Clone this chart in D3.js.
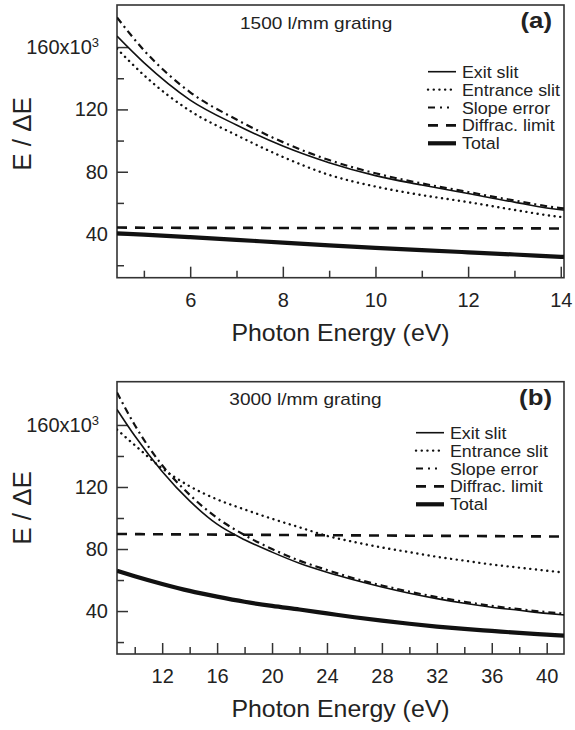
<!DOCTYPE html>
<html>
<head>
<meta charset="utf-8">
<script src="https://cdn.jsdelivr.net/npm/d3@7"></script>
<style>
  body { margin: 0; background: #fff; }
  text { font-family: "Liberation Sans", Arial, sans-serif; fill: #222; }
</style>
</head>
<body>
<div id="chart"></div>
<script>
// Resolving power contributions vs photon energy, two gratings

// panel (a): 1500 l/mm grating
var energyA   = [4.42, 5, 6, 7, 8, 9, 10, 11, 12, 13, 14, 14.07];
var exitA     = [167, 150, 126, 110, 96.5, 85.8, 77.5, 71.5, 66, 60.5, 55.6, 55.4];
var entranceA = [159, 142, 119, 103.5, 89.5, 78, 70.5, 65, 60.5, 55.5, 51, 50.8];
var slopeA    = [179, 158, 131, 113.5, 99, 87.5, 79, 72.5, 67, 61.5, 56.7, 56.5];
var diffracA  = [44.2, 44.1, 44, 44, 43.9, 43.9, 43.8, 43.8, 43.7, 43.7, 43.6, 43.6];
var totalA    = [40.4, 39.6, 38, 36.3, 34.5, 32.8, 31.2, 29.7, 28.3, 26.9, 25.4, 25.3];

// panel (b): 3000 l/mm grating
var energyB   = [8.71, 10, 12, 14, 16, 18, 20, 22, 24, 26, 28, 30, 32, 34, 36, 38, 40, 41.26];
var exitB     = [170, 153, 130, 111, 96, 86, 78, 70.8, 65, 60, 55.5, 51.5, 48, 45, 42.5, 40.5, 38.5, 37.5];
var entranceB = [157, 147, 132, 120.5, 112, 105.5, 99.5, 94, 88.5, 84.5, 81, 78, 75, 72.5, 70, 68, 66, 64.8];
var slopeB    = [181, 160, 134, 115, 100, 89, 80, 72.5, 66.5, 61, 56.5, 52.5, 49, 46, 43.3, 41.2, 39.3, 38.3];
var diffracB  = [89.7, 89.6, 89.5, 89.4, 89.3, 89.2, 89.1, 89, 88.9, 88.8, 88.7, 88.6, 88.5, 88.4, 88.3, 88.2, 88.1, 88];
var totalB    = [66, 62.5, 57.5, 53, 49.3, 46, 43.3, 41, 38.5, 36, 33.8, 31.8, 30, 28.5, 27.2, 25.9, 24.8, 24.1];

var yMajor = [40, 80, 120, 160];
var yMinor = [20, 60, 100, 140];
var xMajorA = [6, 8, 10, 12, 14], xMinorA = [5, 7, 9, 11, 13];
var xMajorB = [12, 16, 20, 24, 28, 32, 36, 40], xMinorB = [10, 14, 18, 22, 26, 30, 34, 38];

var legendNames = ["Exit slit", "Entrance slit", "Slope error", "Diffrac. limit", "Total"];

// line styles, same order as legendNames
var styles = [
    { width: 1.6, dash: null, legendDash: null },
    { width: 2.4, dash: "0.1,5.6", legendDash: "0.1,5.6", cap: "round" },
    { width: 2.2, dash: "7,4,2,4", legendDash: "7,5,2,5,2,20" },
    { width: 2.6, dash: "10,8", legendDash: "10,8" },
    { width: 4.2, dash: null, legendDash: null }
];

var svg = d3.select("#chart")
    .append("svg")
    .attr("width", 575)
    .attr("height", 730);

function addText(g, x, y, str, size, sx, anchor, weight) {
    return g.append("text")
        .attr("transform", "translate(" + x + "," + y + ") scale(" + sx + ",1)")
        .attr("text-anchor", anchor)
        .style("font-size", size + "px")
        .style("font-weight", weight || "normal")
        .text(str);
}

function drawPanel(p) {
    var x = d3.scaleLinear().domain(p.xDomain).range([117, 564]);
    var y = d3.scaleLinear().domain(p.yDomain).range([p.bottom, p.top]);
    var g = svg.append("g");

    // minor ticks
    g.append("g")
        .attr("transform", "translate(0," + p.bottom + ")")
        .call(d3.axisBottom(x).tickValues(p.xMinor).tickSize(-7).tickFormat(""));
    g.append("g")
        .attr("transform", "translate(117,0)")
        .call(d3.axisLeft(y).tickValues(yMinor).tickSize(-7).tickFormat(""));

    // major ticks + labels
    g.append("g")
        .attr("class", "xaxis")
        .attr("transform", "translate(0," + p.bottom + ")")
        .call(d3.axisBottom(x).tickValues(p.xMajor).tickSize(-11).tickPadding(15));
    g.append("g")
        .attr("class", "yaxis")
        .attr("transform", "translate(117,0)")
        .call(d3.axisLeft(y).tickValues(yMajor).tickSize(-11).tickPadding(9));

    g.selectAll(".domain").remove();
    g.selectAll(".tick line").attr("stroke", "#333").attr("stroke-width", 1.5);
    g.selectAll(".tick text").style("font-size", "20px").attr("fill", "#222");

    g.select(".yaxis").selectAll(".tick text").each(function (d) {
        if (d === 160) {
            var t = d3.select(this).text("160x10").attr("dx", "-0.45em");
            t.append("tspan").attr("dy", "-0.55em").style("font-size", "13px").text("3");
        }
    });

    // frame
    g.append("rect")
        .attr("x", 117).attr("y", p.top)
        .attr("width", 564 - 117).attr("height", p.bottom - p.top)
        .attr("fill", "none").attr("stroke", "#333").attr("stroke-width", 1.6);

    var clipId = "clip" + p.tag;
    svg.append("clipPath").attr("id", clipId)
        .append("rect")
        .attr("x", 117).attr("y", p.top)
        .attr("width", 564 - 117).attr("height", p.bottom - p.top);

    var line = d3.line()
        .x(function (d) { return x(d[0]); })
        .y(function (d) { return y(d[1]); })
        .curve(d3.curveMonotoneX);

    p.series.forEach(function (vals, i) {
        var st = styles[i];
        g.append("path")
            .datum(p.energy.map(function (e, j) { return [e, vals[j]]; }))
            .attr("clip-path", "url(#" + clipId + ")")
            .attr("fill", "none")
            .attr("stroke", "#111")
            .attr("stroke-width", st.width)
            .attr("stroke-dasharray", st.dash)
            .attr("stroke-linecap", st.cap || "butt")
            .attr("d", line);
    });

    // legend
    legendNames.forEach(function (name, i) {
        var st = styles[i];
        var ly = p.legendY + i * 17.9;
        g.append("line")
            .attr("x1", p.legendX).attr("x2", p.legendX + 28)
            .attr("y1", ly).attr("y2", ly)
            .attr("stroke", "#111")
            .attr("stroke-width", st.width)
            .attr("stroke-dasharray", st.legendDash)
            .attr("stroke-linecap", st.cap || "butt");
        addText(g, p.legendX + 34, ly + 6, name, 16.5, 1.08, "start");
    });

    // grating label + panel letter
    addText(g, p.titleX, p.top + 23.5, p.title, 17, 1.12, "start");
    addText(g, 552, p.top + 23, p.letter, 23, 1.12, "end", "bold");

    // axis titles
    addText(g, 340.5, p.bottom + 63, "Photon Energy (eV)", 23, 1.08, "middle");
    g.append("text")
        .attr("transform", "translate(31," + p.yTitle + ") rotate(-90)")
        .attr("text-anchor", "middle")
        .style("font-size", "26px")
        .text("E / \u0394E");
}

drawPanel({
    tag: "a", top: 5, bottom: 277.7,
    xDomain: [4.42, 14.07], yDomain: [12, 187],
    xMajor: xMajorA, xMinor: xMinorA,
    energy: energyA,
    series: [exitA, entranceA, slopeA, diffracA, totalA],
    legendX: 428, legendY: 71.7,
    title: "1500 l/mm grating", titleX: 240, letter: "(a)",
    yTitle: 134
});

drawPanel({
    tag: "b", top: 381.7, bottom: 654,
    xDomain: [8.71, 41.26], yDomain: [12.3, 187.9],
    xMajor: xMajorB, xMinor: xMinorB,
    energy: energyB,
    series: [exitB, entranceB, slopeB, diffracB, totalB],
    legendX: 416, legendY: 432.7,
    title: "3000 l/mm grating", titleX: 229.3, letter: "(b)",
    yTitle: 508
});
</script>
</body>
</html>
